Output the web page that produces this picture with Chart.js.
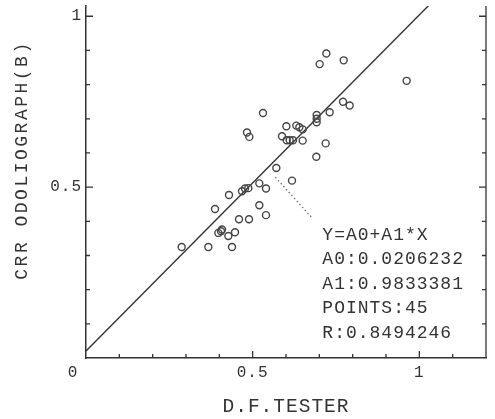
<!DOCTYPE html>
<html>
<head>
<meta charset="utf-8">
<title>CRR odoliograph vs D.F. tester</title>
<script src="https://cdn.jsdelivr.net/npm/chart.js@4.4.1/dist/chart.umd.min.js"></script>
<style>
  html, body { margin: 0; padding: 0; background: #fff; }
  #wrap { width: 495px; height: 419px; }
</style>
</head>
<body>
<div id="wrap"><canvas id="crrChart"></canvas></div>
<script>
// D.F. tester (x) against CRR odoliograph (B) (y)
const dfTester = [
  0.287, 0.367, 0.438, 0.387, 0.429, 0.468, 0.477, 0.487, 0.520, 0.540,
  0.520, 0.540, 0.459, 0.489, 0.408, 0.397, 0.427, 0.447, 0.571, 0.618,
  0.531, 0.483, 0.490, 0.601, 0.631, 0.650, 0.692, 0.692, 0.588, 0.602,
  0.621, 0.650, 0.719, 0.691, 0.721, 0.701, 0.773, 0.962, 0.771, 0.791,
  0.731, 0.640, 0.692, 0.611, 0.405
];
const crrOdoliograph = [
  0.325, 0.325, 0.325, 0.436, 0.477, 0.488, 0.496, 0.497, 0.511, 0.496,
  0.447, 0.418, 0.406, 0.406, 0.376, 0.366, 0.357, 0.368, 0.556, 0.519,
  0.717, 0.660, 0.647, 0.678, 0.680, 0.669, 0.711, 0.690, 0.649, 0.637,
  0.637, 0.636, 0.628, 0.589, 0.891, 0.860, 0.871, 0.811, 0.750, 0.739,
  0.719, 0.675, 0.700, 0.637, 0.371
];

// regression printed on the chart
const fitA0 = 0.0206232;
const fitA1 = 0.9833381;
const fitPoints = 45;
const fitR = 0.8494246;
const fitX = [0, 1.2];

// dotted leader from the cloud to the text block
const leaderX = [0.568, 0.679];
const leaderY = [0.529, 0.409];

// axes
const xTitle = 'D.F.TESTER';
const yTitle = 'CRR ODOLIOGRAPH(B)';
const labelledTicks = [0.5, 1];
const labelledText = ['0.5', '1'];
const cornerLabel = '0';

const annotationLines = [
  'Y=A0+A1*X',
  'A0:' + fitA0,
  'A1:' + fitA1,
  'POINTS:' + fitPoints,
  'R:' + fitR
];

const INK = '#333';
const FONT = '"Liberation Mono", "DejaVu Sans Mono", monospace';

function tickText(v) {
  const i = labelledTicks.findIndex(t => Math.abs(t - v) < 1e-6);
  return i >= 0 ? labelledText[i] : '';
}

const scatterData = dfTester.map((x, i) => ({ x: x, y: crrOdoliograph[i] }));
const fitData = fitX.map(x => ({ x: x, y: fitA0 + fitA1 * x }));
const leaderData = leaderX.map((x, i) => ({ x: x, y: leaderY[i] }));

// inner tick marks, right frame line, corner "0", y title and the fit text
const frameExtras = {
  id: 'frameExtras',
  beforeDraw(chart) {
    chart.ctx.letterSpacing = '1px';
  },
  afterDraw(chart) {
    const { ctx, chartArea: a, scales: { x, y } } = chart;
    ctx.save();
    ctx.strokeStyle = INK;
    ctx.lineWidth = 1.3;
    ctx.beginPath();
    ctx.moveTo(a.right, a.top);
    ctx.lineTo(a.right, a.bottom);
    x.ticks.forEach(t => {
      if (t.value <= 0 || t.value >= x.max - 1e-6) return;
      const px = x.getPixelForValue(t.value);
      const len = tickText(t.value) ? 7 : 4;
      ctx.moveTo(px, a.bottom);
      ctx.lineTo(px, a.bottom - len);
    });
    y.ticks.forEach(t => {
      if (t.value <= 0) return;
      const py = y.getPixelForValue(t.value);
      const len = tickText(t.value) ? 7 : 4;
      ctx.moveTo(a.left, py);
      ctx.lineTo(a.left + len, py);
      ctx.moveTo(a.right, py);
      ctx.lineTo(a.right - len, py);
    });
    ctx.stroke();

    ctx.fillStyle = INK;
    ctx.letterSpacing = '1px';
    ctx.font = '16px ' + FONT;
    ctx.textAlign = 'center';
    ctx.textBaseline = 'middle';
    ctx.fillText(cornerLabel, a.left - 13, a.bottom + 15);

    // y title
    ctx.save();
    ctx.letterSpacing = '2.5px';
    ctx.font = '18px ' + FONT;
    ctx.translate(22, 160);
    ctx.rotate(-Math.PI / 2);
    ctx.fillText(yTitle, 0, 0);
    ctx.restore();

    // fit summary
    ctx.font = '18px ' + FONT;
    ctx.letterSpacing = '1px';
    ctx.textAlign = 'left';
    const tx = x.getPixelForValue(0.709);
    const ty = y.getPixelForValue(0.360);
    annotationLines.forEach((line, i) => {
      ctx.fillText(line, tx, ty + i * 24.5);
    });
    ctx.restore();
  }
};

new Chart(document.getElementById('crrChart'), {
  type: 'scatter',
  data: {
    datasets: [
      {
        label: 'points',
        data: scatterData,
        pointStyle: 'circle',
        pointRadius: 3.5,
        pointHoverRadius: 3.5,
        borderWidth: 1.4,
        borderColor: '#444',
        backgroundColor: 'rgba(255,255,255,0)'
      },
      {
        label: 'fit',
        data: fitData,
        showLine: true,
        pointRadius: 0,
        borderColor: INK,
        borderWidth: 1.4
      },
      {
        label: 'leader',
        data: leaderData,
        showLine: true,
        pointRadius: 0,
        borderColor: '#777',
        borderWidth: 1.4,
        borderDash: [1.5, 2.5]
      }
    ]
  },
  options: {
    responsive: true,
    maintainAspectRatio: false,
    animation: false,
    layout: { padding: { top: 6, right: 9, left: 0, bottom: 0 } },
    plugins: {
      legend: { display: false },
      tooltip: { enabled: false }
    },
    scales: {
      x: {
        type: 'linear',
        min: 0,
        max: 1.2,
        grid: { display: false, drawTicks: false },
        border: { display: true, color: INK, width: 1.5 },
        ticks: {
          stepSize: 0.1,
          includeBounds: false,
          autoSkip: false,
          maxRotation: 0,
          padding: 5,
          color: INK,
          font: { family: FONT, size: 16 },
          callback: v => tickText(v)
        },
        title: {
          display: true,
          text: xTitle,
          color: INK,
          font: { family: FONT, size: 19.5 },
          padding: { top: 0, bottom: 0 }
        },
        afterFit(scale) {
          scale.height = 61;
          scale.paddingLeft = 0;
          scale.paddingRight = 0;
        }
      },
      y: {
        type: 'linear',
        min: 0,
        max: 1.03,
        grid: { display: false, drawTicks: false },
        border: { display: true, color: INK, width: 1.5 },
        ticks: {
          stepSize: 0.1,
          includeBounds: false,
          autoSkip: false,
          padding: 4,
          color: INK,
          font: { family: FONT, size: 16 },
          callback: v => tickText(v)
        },
        afterFit(scale) {
          scale.width = 86;
          scale.paddingTop = 0;
          scale.paddingBottom = 0;
        }
      }
    }
  },
  plugins: [frameExtras]
});
</script>
</body>
</html>
